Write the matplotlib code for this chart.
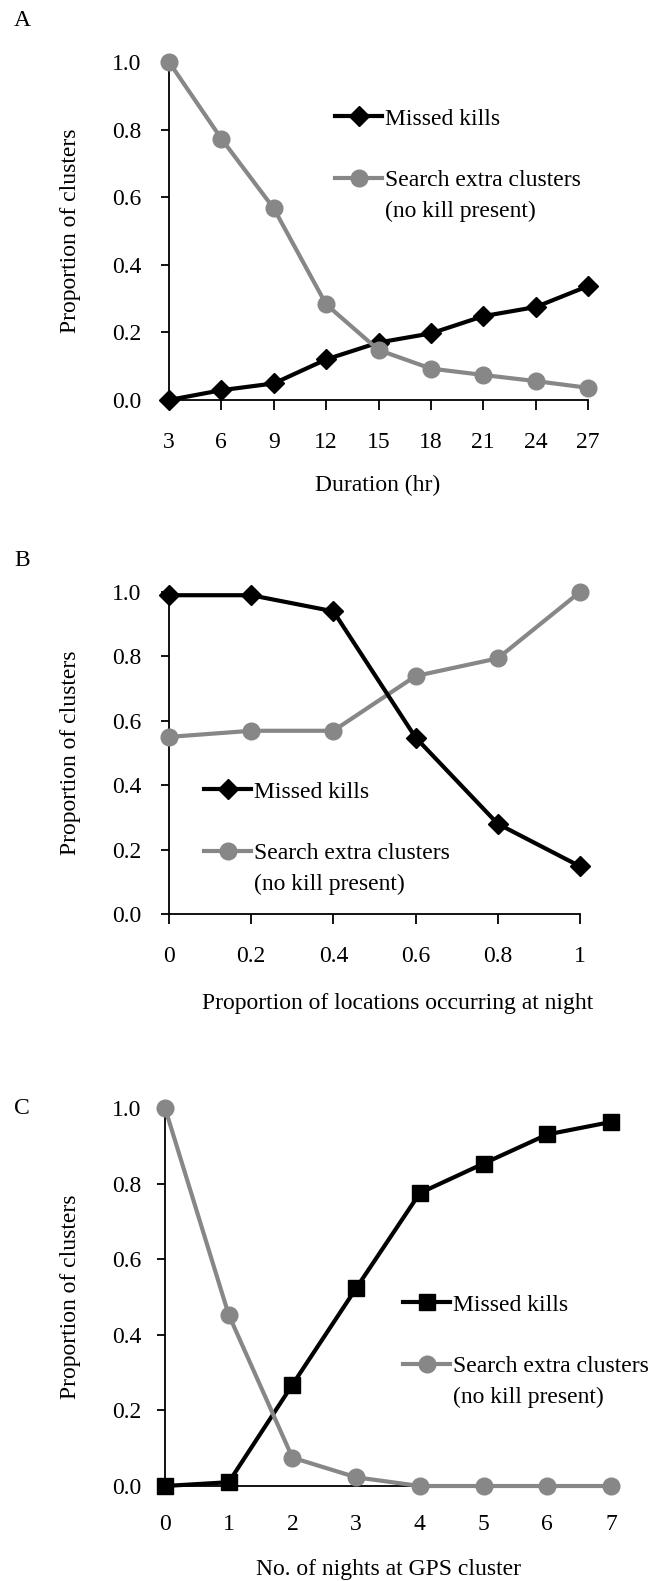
import matplotlib
matplotlib.use("Agg")
import matplotlib.pyplot as plt
from matplotlib.lines import Line2D

plt.rcParams['font.family'] = ['Liberation Serif', 'DejaVu Serif']

# ---- data ----
a_x = [3, 6, 9, 12, 15, 18, 21, 24, 27]
a_missed = [0.0, 0.029, 0.049, 0.12, 0.17, 0.197, 0.248, 0.275, 0.337]
a_search = [1.0, 0.773, 0.567, 0.283, 0.148, 0.093, 0.074, 0.056, 0.036]

b_x = [0, 0.2, 0.4, 0.6, 0.8, 1]
b_missed = [0.99, 0.99, 0.94, 0.548, 0.28, 0.148]
b_search = [0.55, 0.569, 0.569, 0.739, 0.794, 1.0]

c_x = [0, 1, 2, 3, 4, 5, 6, 7]
c_missed = [0.0, 0.01, 0.268, 0.523, 0.775, 0.853, 0.93, 0.963]
c_search = [1.0, 0.453, 0.075, 0.023, 0.0, 0.0, 0.0, 0.0]

a_xticklabels = ['3', '6', '9', '12', '15', '18', '21', '24', '27']
b_xticklabels = ['0', '0.2', '0.4', '0.6', '0.8', '1']
c_xticklabels = ['0', '1', '2', '3', '4', '5', '6', '7']
y_ticks = [0.0, 0.2, 0.4, 0.6, 0.8, 1.0]
y_ticklabels = ['0.0', '0.2', '0.4', '0.6', '0.8', '1.0']

panel_labels = ['A', 'B', 'C']
xlabels = ['Duration (hr)', 'Proportion of locations occurring at night',
           'No. of nights at GPS cluster']
ylabel = 'Proportion of clusters'
leg_missed = 'Missed kills'
leg_search = ['Search extra clusters', '(no kill present)']

W, H = 667, 1581
fig = plt.figure(figsize=(W / 100, H / 100), dpi=100)

BLACK = '#000000'
GREY = '#878787'
FS = 17


def fx(px):
    return px / W


def fy(py):
    return 1 - py / H


def make_ax(left, right, top, bottom):
    return fig.add_axes([fx(left), fy(bottom), fx(right - left), (bottom - top) / H])


def style(ax, xlim, xticks, xticklabels, xtick_len, xpad, ypad):
    ax.set_xlim(*xlim)
    ax.set_ylim(0, 1)
    for s in ['top', 'right']:
        ax.spines[s].set_visible(False)
    for s in ['left', 'bottom']:
        ax.spines[s].set_linewidth(1.3)
    ax.set_xticks(xticks)
    ax.set_xticklabels(xticklabels)
    ax.set_yticks(y_ticks)
    ax.set_yticklabels(y_ticklabels)
    ax.tick_params(axis='x', direction='out', length=xtick_len, width=1.3,
                   labelsize=FS, pad=xpad)
    ax.tick_params(axis='y', direction='out', length=6, width=1.3,
                   labelsize=FS, pad=ypad)


def add_legend(ax, h_missed, h_search, x_px, y_px, spacing):
    blank = Line2D([], [], color='none')
    leg = ax.legend([h_missed, blank, h_search, blank],
                    [leg_missed, ' ', leg_search[0], leg_search[1]],
                    loc='upper left', bbox_to_anchor=(fx(x_px), fy(y_px)),
                    bbox_transform=fig.transFigure, frameon=False,
                    fontsize=FS, handlelength=2.0, handletextpad=0.1,
                    labelspacing=spacing, borderpad=0, borderaxespad=0)
    return leg


lw = 3.0
ms = 12

# ---- Panel A ----
axA = make_ax(169, 588, 62, 400)
style(axA, (3, 27), a_x, a_xticklabels, 7, 16, 14)
hm, = axA.plot(a_x, a_missed, color=BLACK, lw=lw, marker='D', ms=ms - 2,
               clip_on=False, zorder=3)
hs, = axA.plot(a_x, a_search, color=GREY, lw=lw, marker='o', ms=ms,
               clip_on=False, zorder=4)
add_legend(axA, hm, hs, 335, 108, 0.40)

# ---- Panel B ----
axB = make_ax(169, 580, 592, 914)
style(axB, (0, 1), b_x, b_xticklabels, 7, 16, 14)
hs, = axB.plot(b_x, b_search, color=GREY, lw=lw, marker='o', ms=ms,
               clip_on=False, zorder=3)
hm, = axB.plot(b_x, b_missed, color=BLACK, lw=lw, marker='D', ms=ms - 2,
               clip_on=False, zorder=4)
add_legend(axB, hm, hs, 204, 781, 0.40)

# ---- Panel C ----
axC = make_ax(165, 611, 1108, 1486)
style(axC, (0, 7), c_x, c_xticklabels, 0, 20, 11)
hm, = axC.plot(c_x, c_missed, color=BLACK, lw=lw, marker='s', ms=ms - 1,
               clip_on=False, zorder=3)
hs, = axC.plot(c_x, c_search, color=GREY, lw=lw, marker='o', ms=ms,
               clip_on=False, zorder=4)
add_legend(axC, hm, hs, 403, 1294, 0.40)

# ---- axis labels ----
for ax, top, bottom in [(axA, 62, 400), (axB, 592, 914), (axC, 1108, 1486)]:
    ax.set_ylabel(ylabel, fontsize=FS)
    ax.yaxis.set_label_coords(fx(81), fy((top + bottom) / 2), transform=fig.transFigure)

for ax, xc, yc, lab in [(axA, 378, 485, xlabels[0]), (axB, 398, 1003, xlabels[1]),
                        (axC, 388, 1570, xlabels[2])]:
    ax.set_xlabel(lab, fontsize=FS)
    ax.xaxis.set_label_coords(fx(xc), fy(yc), transform=fig.transFigure)
    ax.xaxis.label.set_verticalalignment('center')

for lab, y in zip(panel_labels, [20, 560, 1108]):
    fig.text(fx(22), fy(y), lab, fontsize=FS, ha='center', va='center')

fig.savefig('out.png', dpi=100)
